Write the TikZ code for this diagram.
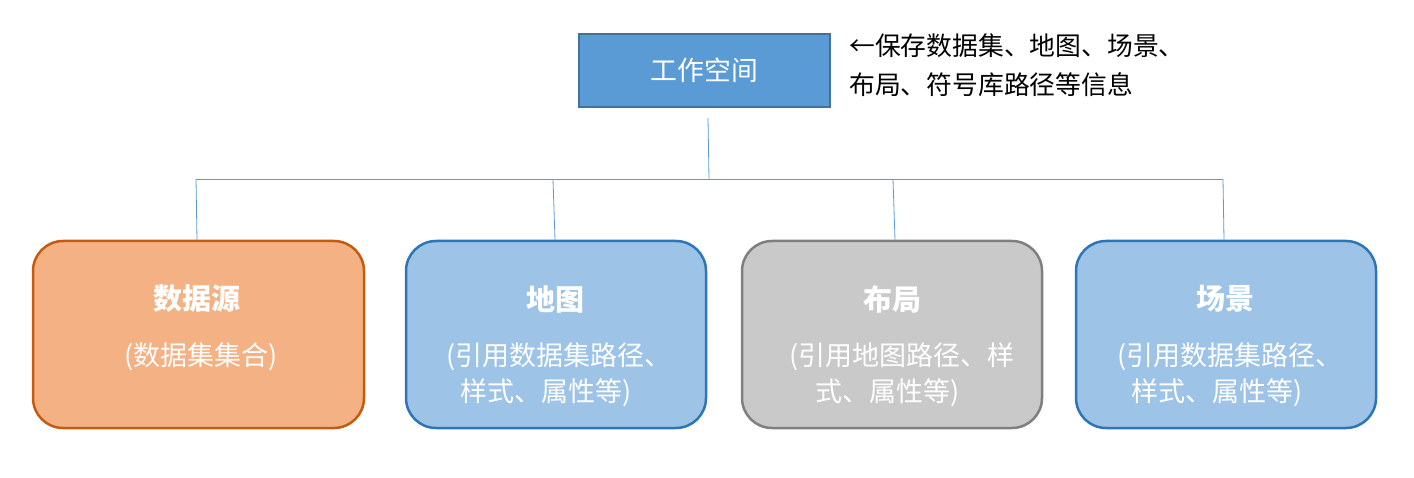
\documentclass[tikz,border=0pt]{standalone}
\usepackage{fontspec}
\setmainfont{Noto Sans CJK SC}
\definecolor{wsfill}{HTML}{5B9BD5}
\definecolor{wsline}{HTML}{41719C}
\definecolor{orfill}{HTML}{F4B183}
\definecolor{orline}{HTML}{C55A11}
\definecolor{blfill}{HTML}{9DC3E6}
\definecolor{blline}{HTML}{2E75B6}
\definecolor{gyfill}{HTML}{C9C9C9}
\definecolor{gyline}{HTML}{7F7F7F}
\definecolor{conn}{HTML}{5B9BD5}
\tikzset{
  card/.style={draw, line width=2.5pt, rounded corners=30pt, minimum height=187pt, inner sep=0pt},
  ttl/.style={text=white, font=\fontsize{29}{32}\selectfont\bfseries, inner sep=0pt},
  sub/.style={text=white, font=\fontsize{27}{36}\selectfont, inner sep=0pt, anchor=west},
  link/.style={draw=conn, line width=0.8pt}
}
\begin{document}
\begin{tikzpicture}[x=1pt,y=-1pt]
\useasboundingbox (0,0) rectangle (1414,478);
\node[draw=wsline, fill=wsfill, line width=2pt, minimum width=251pt, minimum height=73pt, inner sep=0pt,
  text=white, font=\fontsize{26.8}{30}\selectfont] (ws) at (704.5,70.5) {工作空间};
\node[anchor=west, inner sep=0pt, align=left, font=\fontsize{25.8}{39}\selectfont] (note) at (849,65) {←保存数据集、地图、场景、\\布局、符号库路径等信息};

\node[card, draw=orline, fill=orfill, minimum width=331pt] (b1) at (198.5,334.5) {};
\node[card, draw=blline, fill=blfill, minimum width=300pt] (b2) at (556,334.5) {};
\node[card, draw=gyline, fill=gyfill, minimum width=300pt] (b3) at (892,334.5) {};
\node[card, draw=blline, fill=blfill, minimum width=300pt] (b4) at (1226,334.5) {};

\node[ttl] (t1) at (197,299) {数据源};
\node[ttl] (t2) at (555,299) {地图};
\node[ttl] (t3) at (892,299) {布局};
\node[ttl] (t4) at (1225,299) {场景};

\node[sub] (s1) at (124,357) {(数据集集合)};
\node[sub] (s2a) at (446,357) {(引用数据集路径、};
\node[sub] (s2b) at (460,393) {样式、属性等)};
\node[sub] (s3a) at (789,357) {(引用地图路径、样};
\node[sub] (s3b) at (815,393) {式、属性等)};
\node[sub] (s4a) at (1117,357) {(引用数据集路径、};
\node[sub] (s4b) at (1131,393) {样式、属性等)};

\coordinate (stem) at (708,118);
\coordinate (hub) at (709,179);
\coordinate (j1) at (196,179);
\coordinate (j2) at (553,179);
\coordinate (j3) at (893,179);
\coordinate (j4) at (1223,179);
\draw[link] (stem) -- (hub);
\draw[link] (j1) -- (j4);
\draw[link] (j1) -- (b1.north -| 197,0);
\draw[link] (j2) -- (b2.north -| 555,0);
\draw[link] (j3) -- (b3.north -| 895,0);
\draw[link] (j4) -- (b4.north -| 1224,0);
\end{tikzpicture}
\end{document}
